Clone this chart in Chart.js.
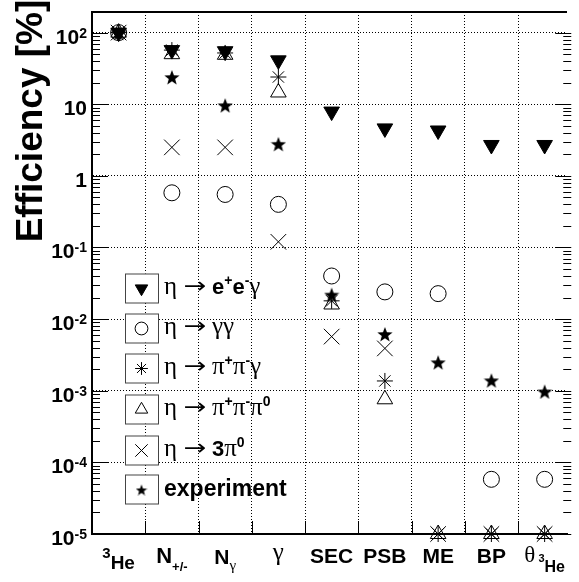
<!DOCTYPE html>
<html>
<head>
<meta charset="utf-8">
<script src="https://cdn.jsdelivr.net/npm/chart.js@4.4.0/dist/chart.umd.min.js"></script>
<style>
  html, body { margin: 0; padding: 0; background: #fff; }
  #c { display: block; }
</style>
</head>
<body>
<canvas id="c" width="579" height="582"></canvas>
<script>
// one bin per category along x
const categories = ['3He', 'N+/-', 'N_gamma', 'gamma', 'SEC', 'PSB', 'ME', 'BP', 'theta_3He'];

// efficiency in percent, one value per category (1e-5 = off scale at the bottom)
const effEEGamma   = [100, 57, 55, 41, 7.9, 4.6, 4.3, 2.7, 2.7];
const effGammaGamma = [100, 0.58, 0.55, 0.40, 0.040, 0.024, 0.0227, 5.8e-5, 5.8e-5];
const effPiPiGamma = [100, 57, 52, 24, 0.018, 0.00137, 1e-5, 1e-5, 1e-5];
const effPiPiPi0   = [100, 50, 49, 14.6, 0.016, 0.00076, 1e-5, 1e-5, 1e-5];
const eff3Pi0      = [100, 2.5, 2.5, 0.12, 0.0057, 0.0039, 1e-5, 1e-5, 1e-5];
const effExperiment = [100, 24, 9.7, 2.8, 0.022, 0.0062, 0.0025, 0.0014, 0.00098];

const seriesNames = ['η → e⁺e⁻γ', 'η → γγ', 'η → π⁺π⁻γ', 'η → π⁺π⁻π⁰', 'η → 3π⁰', 'experiment'];

const yTicks = [1e-5, 1e-4, 1e-3, 1e-2, 1e-1, 1, 10, 100];
const yTickLabels = [['10', '-5'], ['10', '-4'], ['10', '-3'], ['10', '-2'], ['10', '-1'], ['1', ''], ['10', ''], ['10', '2']];

const SANS = '"Liberation Sans", Arial, sans-serif';
const SERIF = '"Liberation Serif", "Times New Roman", serif';

// filled five point star used as marker for the experiment
function makeStar(size) {
    const c = document.createElement('canvas');
    c.width = size;
    c.height = size;
    const g = c.getContext('2d');
    const r = size / 2;
    g.beginPath();
    for (let i = 0; i < 10; i++) {
        const a = -Math.PI / 2 + i * Math.PI / 5;
        const rr = i % 2 ? r * 0.42 : r;
        g.lineTo(r + Math.cos(a) * rr, r + 1 + Math.sin(a) * rr);
    }
    g.closePath();
    g.fillStyle = '#000';
    g.fill();
    return c;
}
const starBig = makeStar(16);
const starSmall = makeStar(12);

const toPoints = vals => vals.map((v, i) => ({ x: i + 0.5, y: v }));

const markerStyles = [
    { pointStyle: 'triangle', rotation: 180, radius: 9, fill: '#000' },
    { pointStyle: 'circle', rotation: 0, radius: 8, fill: 'rgba(0,0,0,0)' },
    { pointStyle: 'star', rotation: 0, radius: 8, fill: 'rgba(0,0,0,0)' },
    { pointStyle: 'triangle', rotation: 0, radius: 9, fill: 'rgba(0,0,0,0)' },
    { pointStyle: 'crossRot', rotation: 0, radius: 11, fill: 'rgba(0,0,0,0)' },
    { pointStyle: starBig, rotation: 0, radius: 8, fill: '#000' }
];
const seriesValues = [effEEGamma, effGammaGamma, effPiPiGamma, effPiPiPi0, eff3Pi0, effExperiment];

const datasets = seriesValues.map((vals, k) => ({
    label: seriesNames[k],
    data: toPoints(vals),
    pointStyle: markerStyles[k].pointStyle,
    pointRotation: markerStyles[k].rotation,
    pointRadius: markerStyles[k].radius,
    pointHoverRadius: markerStyles[k].radius,
    pointBackgroundColor: markerStyles[k].fill,
    pointBorderColor: '#000',
    pointBorderWidth: 1,
    showLine: false,
    clip: false
}));

// draw a piece of text made of parts [text, font, dy]
function rich(ctx, x, y, parts, align) {
    let w = 0;
    parts.forEach(p => { ctx.font = p[1]; w += ctx.measureText(p[0]).width; });
    let cx = align === 'center' ? x - w / 2 : align === 'right' ? x - w : x;
    ctx.textAlign = 'left';
    ctx.textBaseline = 'alphabetic';
    parts.forEach(p => {
        ctx.font = p[1];
        ctx.fillText(p[0], cx, y + (p[2] || 0));
        cx += ctx.measureText(p[0]).width;
    });
}

// text stretched horizontally to a given width (used for the long arrow)
function stretched(ctx, text, font, x, y, width) {
    ctx.save();
    ctx.font = font;
    ctx.textAlign = 'left';
    ctx.textBaseline = 'alphabetic';
    const m = ctx.measureText(text);
    const ink = m.actualBoundingBoxLeft + m.actualBoundingBoxRight;
    ctx.translate(x, y);
    ctx.scale(width / ink, 1);
    ctx.fillText(text, m.actualBoundingBoxLeft, 0);
    ctx.restore();
}

const xLabelParts = [
    [['3', 'bold 15px ' + SANS, -5], ['He', 'bold 19px ' + SANS, 6]],
    [['N', 'bold 22px ' + SANS, 0], ['+/-', 'bold 13px ' + SANS, 8]],
    [['N', 'bold 21px ' + SANS, 1], ['γ', '15px ' + SERIF, 7]],
    [['γ', '25px ' + SERIF, -3]],
    [['SEC', 'bold 21px ' + SANS, 0]],
    [['PSB', 'bold 21px ' + SANS, 0]],
    [['ME', 'bold 21px ' + SANS, 0]],
    [['BP', 'bold 21px ' + SANS, 0]],
    [['θ', '23px ' + SERIF, -1], [' ', '11px ' + SANS, 0], ['3', 'bold 11px ' + SANS, -1], ['He', 'bold 16px ' + SANS, 9]]
];

const SYM = '25px ' + SERIF;
const LB = 'bold 22px ' + SANS;
const LSUP = 'bold 14px ' + SANS;
const legendParts = [
    [['e', LB], ['+', LSUP, -9], ['e', LB], ['-', LSUP, -9], ['γ', SYM]],
    [['γγ', SYM]],
    [['π', SYM], ['+', LSUP, -9], ['π', SYM], ['-', LSUP, -9], ['γ', SYM]],
    [['π', SYM], ['+', LSUP, -9], ['π', SYM], ['-', LSUP, -9], ['π', SYM], ['0', LSUP, -9]],
    [['3', LB], ['π', SYM], ['0', LSUP, -9]],
    null
];
const legendRowsY = [288, 328, 368, 409, 450, 489];

const framePlugin = {
    id: 'frame',
    afterDraw(chart) {
        const ctx = chart.ctx;
        const area = chart.chartArea;
        const xs = chart.scales.x;
        const ys = chart.scales.y;
        const rightEdge = xs.getPixelForValue(9);
        ctx.save();
        ctx.strokeStyle = '#000';
        ctx.fillStyle = '#000';

        // top line of the frame
        ctx.lineWidth = 2;
        ctx.beginPath();
        ctx.moveTo(area.left, area.top);
        ctx.lineTo(area.right, area.top);
        ctx.stroke();

        // inward ticks on left and right
        ctx.lineWidth = 1;
        for (let e = -5; e <= 2; e++) {
            for (let m = 1; m <= 9; m++) {
                const v = m * Math.pow(10, e);
                if (v > ys.max) continue;
                const py = Math.round(ys.getPixelForValue(v)) + 0.5;
                const len = m === 1 ? 16 : 8;
                ctx.beginPath();
                ctx.moveTo(area.left, py);
                ctx.lineTo(area.left + len, py);
                ctx.moveTo(rightEdge, py);
                ctx.lineTo(rightEdge - len, py);
                ctx.stroke();
            }
        }
        // inward ticks at bin edges on the bottom
        for (let i = 1; i <= 8; i++) {
            const px = Math.round(xs.getPixelForValue(i)) + 0.5;
            ctx.beginPath();
            ctx.moveTo(px, area.bottom);
            ctx.lineTo(px, area.bottom - 13);
            ctx.stroke();
        }

        // y tick labels
        yTicks.forEach((v, i) => {
            const py = ys.getPixelForValue(v);
            const lab = yTickLabels[i];
            const parts = [[lab[0], 'bold 21px ' + SANS, 0]];
            if (lab[1]) parts.push([lab[1], 'bold 14px ' + SANS, -6]);
            rich(ctx, 87, py + 11, parts, 'right');
        });

        // x category labels
        categories.forEach((c, i) => {
            rich(ctx, xs.getPixelForValue(i + 0.5), 563, xLabelParts[i], 'center');
        });

        // y title
        ctx.save();
        ctx.translate(42, 121);
        ctx.rotate(-Math.PI / 2);
        ctx.font = 'bold 37px ' + SANS;
        ctx.textAlign = 'center';
        ctx.textBaseline = 'alphabetic';
        ctx.fillText('Efficiency [%]', 0, 0);
        ctx.restore();

        // legend
        legendRowsY.forEach((cy, k) => {
            ctx.fillStyle = '#fff';
            ctx.fillRect(125, cy - 14.5, 33, 29);
            ctx.strokeStyle = '#444';
            ctx.lineWidth = 1;
            ctx.strokeRect(125.5, cy - 14, 33, 29);
            const ms = markerStyles[k];
            ctx.strokeStyle = '#000';
            ctx.fillStyle = ms.fill;
            Chart.helpers.drawPoint(ctx, {
                pointStyle: k === 5 ? starSmall : ms.pointStyle,
                rotation: ms.rotation,
                radius: ms.radius * 0.8,
                borderWidth: 1
            }, 141.5, cy + 0.5);
            ctx.fillStyle = '#000';
            const by = cy + 6;
            if (legendParts[k]) {
                rich(ctx, 164, by, [['η', SYM, 0]], 'left');
                stretched(ctx, '→', '22px "DejaVu Sans"', 185, by - 1, 21);
                rich(ctx, 212, by, legendParts[k], 'left');
            } else {
                rich(ctx, 164, by + 1, [['experiment', 'bold 23px ' + SANS, 0]], 'left');
            }
        });
        ctx.restore();
    }
};

new Chart(document.getElementById('c'), {
    type: 'scatter',
    data: { datasets: datasets },
    options: {
        responsive: false,
        animation: false,
        devicePixelRatio: 1,
        layout: { padding: { top: 2, right: 0, bottom: 0, left: 0 } },
        plugins: {
            legend: { display: false },
            tooltip: { enabled: false }
        },
        scales: {
            x: {
                type: 'linear',
                min: 0,
                max: 8.92,
                bounds: 'data',
                afterFit: s => { s.height = 48; },
                afterBuildTicks: s => { s.ticks = [1, 2, 3, 4, 5, 6, 7, 8].map(v => ({ value: v })); },
                ticks: { display: false },
                grid: { color: '#000', lineWidth: 1, drawTicks: false },
                border: { display: true, color: '#000', width: 2, dash: [1, 2] }
            },
            y: {
                type: 'logarithmic',
                min: 1e-5,
                max: 194,
                bounds: 'data',
                afterFit: s => { s.width = 92; },
                afterBuildTicks: s => { s.ticks = yTicks.map(v => ({ value: v })); },
                ticks: { display: false },
                grid: { color: '#000', lineWidth: 1, drawTicks: false },
                border: { display: true, color: '#000', width: 2, dash: [1, 2] }
            }
        }
    },
    plugins: [framePlugin]
});
</script>
</body>
</html>
